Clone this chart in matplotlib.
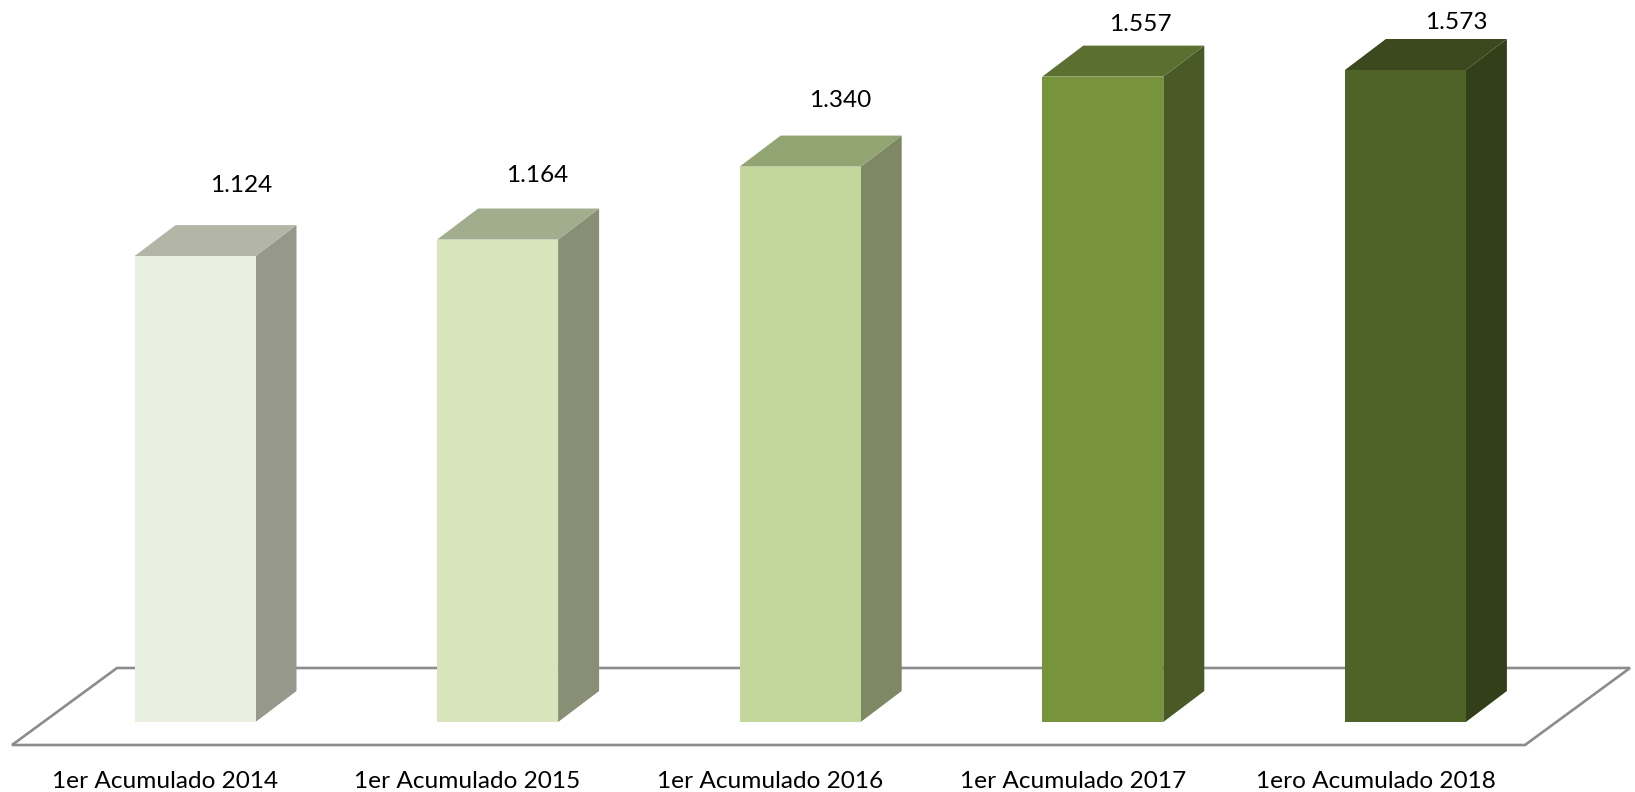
import matplotlib
matplotlib.use('Agg')
import matplotlib.pyplot as plt
from matplotlib.patches import Polygon

# chart values
categories = ['1er Acumulado 2014', '1er Acumulado 2015', '1er Acumulado 2016',
              '1er Acumulado 2017', '1ero Acumulado 2018']
values = [1124, 1164, 1340, 1557, 1573]
value_labels = ['1.124', '1.164', '1.340', '1.557', '1.573']

# colours of each box
front_colors = ['#EAF0DF', '#D7E4BC', '#C3D69B', '#77933C', '#4F6228']
top_colors = ['#B3B6A7', '#A1AD8D', '#93A473', '#5B7030', '#3C491E']
side_colors = ['#95988B', '#888F75', '#7E8864', '#4A5A26', '#333F19']

# pixel layout of the picture
W, H = 1635, 792
x_unit = 302.6
y_unit = 0.4145
x0 = 195
y0 = 722

plt.rcParams['font.family'] = ['Lato', 'DejaVu Sans']
fig = plt.figure(figsize=(W/100, H/100), dpi=100)
ax = fig.add_axes([0, 0, 1, 1])
ax.set_xlim(-x0/x_unit, (W - x0)/x_unit)
ax.set_ylim(-(H - y0)/y_unit, y0/y_unit)
ax.axis('off')

bar_w = 121/x_unit
dx = 41/x_unit
dy = 31/y_unit

# floor of the 3d chart
floor_x = [(12 - x0)/x_unit, (117 - x0)/x_unit, (1630 - x0)/x_unit, (1525 - x0)/x_unit]
floor_y = [(y0 - 745)/y_unit, (y0 - 668)/y_unit, (y0 - 668)/y_unit, (y0 - 745)/y_unit]
ax.add_patch(Polygon(list(zip(floor_x, floor_y)), closed=True, fill=False,
                     edgecolor='#8C8C8C', linewidth=1.9, zorder=1))

# (x, y) offset of each value label from the bar centre top, in pixels
label_offsets = [(46, 71), (40, 64), (40, 66), (38, 52), (51, 47)]

for i in range(len(values)):
    left = i - bar_w/2
    right = i + bar_w/2
    v = values[i]
    ax.add_patch(Polygon([(right, 0), (right + dx, dy), (right + dx, v + dy), (right, v)],
                         facecolor=side_colors[i], edgecolor='none', zorder=2))
    ax.add_patch(Polygon([(left, v), (left + dx, v + dy), (right + dx, v + dy), (right, v)],
                         facecolor=top_colors[i], edgecolor='none', zorder=2))
    ax.bar(i, v, width=bar_w, color=front_colors[i], zorder=3)
    ax.annotate(value_labels[i], (i, v), xytext=(label_offsets[i][0]*0.72, label_offsets[i][1]*0.72),
                textcoords='offset points', ha='center', va='center', fontsize=17.6, color='black')
    # category names sit left of the bar centre
    ax.annotate(categories[i], (i, 0), xytext=(-30*0.72, -60*0.72),
                textcoords='offset points', ha='center', va='center', fontsize=17.6, color='black')

fig.savefig('out.png', dpi=100, facecolor='white')
